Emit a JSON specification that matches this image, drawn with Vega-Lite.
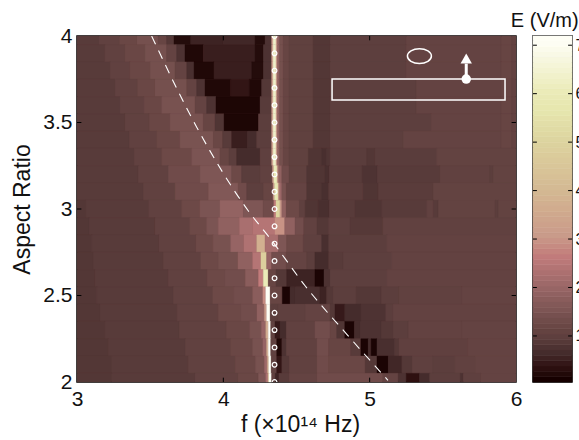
{"$schema":"https://vega.github.io/schema/vega-lite/v6.json","padding":{"left":11,"top":11,"right":0,"bottom":0},"background":"white","spacing":8,"title":{"text":"E (V/m)","anchor":"end","frame":"bounds","font":"Liberation Sans","fontSize":20,"fontWeight":"normal","color":"#111","offset":-7,"dx":-6},
"config":{"view":{"stroke":"black","strokeWidth":1.5},"axis":{"labelFont":"Liberation Sans","titleFont":"Liberation Sans","labelColor":"#111","titleColor":"#111","titleFontWeight":"normal","grid":false,"domain":false,"ticks":false}},
"datasets":{"cells":[
{"a0":3.95,"a1":4,"f0":3,"f1":3.15,"e":0.85},{"a0":3.95,"a1":4,"f0":3.15,"f1":3.29,"e":1},{"a0":3.95,"a1":4,"f0":3.29,"f1":3.41,"e":1.15},{"a0":3.95,"a1":4,"f0":3.41,"f1":3.556,"e":1.35},{"a0":3.95,"a1":4,"f0":3.556,"f1":3.613,"e":1.1},{"a0":3.95,"a1":4,"f0":3.613,"f1":3.663,"e":0.8},{"a0":3.95,"a1":4,"f0":3.663,"f1":3.777,"e":0.2},{"a0":3.95,"a1":4,"f0":3.777,"f1":4,"e":0.5},{"a0":3.95,"a1":4,"f0":4,"f1":4.217,"e":0.55},{"a0":3.95,"a1":4,"f0":4.217,"f1":4.285,"e":0.2},{"a0":3.95,"a1":4,"f0":4.285,"f1":4.33,"e":0.7},{"a0":3.95,"a1":4,"f0":4.33,"f1":4.34,"e":3},{"a0":3.95,"a1":4,"f0":4.34,"f1":4.36,"e":6.3},{"a0":3.95,"a1":4,"f0":4.36,"f1":4.37,"e":3},{"a0":3.95,"a1":4,"f0":4.37,"f1":4.385,"e":1.8},{"a0":3.95,"a1":4,"f0":4.385,"f1":4.41,"e":1.35},{"a0":3.95,"a1":4,"f0":4.41,"f1":4.45,"e":1.1},{"a0":3.95,"a1":4,"f0":4.45,"f1":4.615,"e":0.98},{"a0":3.95,"a1":4,"f0":4.615,"f1":4.73,"e":0.78},{"a0":3.95,"a1":4,"f0":4.73,"f1":5.25,"e":0.92},{"a0":3.95,"a1":4,"f0":5.25,"f1":5.9,"e":1.05},{"a0":3.95,"a1":4,"f0":5.9,"f1":5.97,"e":1.1},{"a0":3.95,"a1":4,"f0":5.97,"f1":6,"e":1.02},
{"a0":3.85,"a1":3.95,"f0":3,"f1":3.19,"e":0.85},{"a0":3.85,"a1":3.95,"f0":3.19,"f1":3.328,"e":1},{"a0":3.85,"a1":3.95,"f0":3.328,"f1":3.465,"e":1.15},{"a0":3.85,"a1":3.95,"f0":3.465,"f1":3.613,"e":1.35},{"a0":3.85,"a1":3.95,"f0":3.613,"f1":3.681,"e":1.05},{"a0":3.85,"a1":3.95,"f0":3.681,"f1":3.738,"e":0.7},{"a0":3.85,"a1":3.95,"f0":3.738,"f1":3.863,"e":0.15},{"a0":3.85,"a1":3.95,"f0":3.863,"f1":4.217,"e":0.45},{"a0":3.85,"a1":3.95,"f0":4.217,"f1":4.274,"e":0.2},{"a0":3.85,"a1":3.95,"f0":4.274,"f1":4.33,"e":0.7},{"a0":3.85,"a1":3.95,"f0":4.33,"f1":4.34,"e":3},{"a0":3.85,"a1":3.95,"f0":4.34,"f1":4.36,"e":6.3},{"a0":3.85,"a1":3.95,"f0":4.36,"f1":4.37,"e":3},{"a0":3.85,"a1":3.95,"f0":4.37,"f1":4.385,"e":1.8},{"a0":3.85,"a1":3.95,"f0":4.385,"f1":4.41,"e":1.35},{"a0":3.85,"a1":3.95,"f0":4.41,"f1":4.45,"e":1.1},{"a0":3.85,"a1":3.95,"f0":4.45,"f1":4.615,"e":0.98},{"a0":3.85,"a1":3.95,"f0":4.615,"f1":4.73,"e":0.78},{"a0":3.85,"a1":3.95,"f0":4.73,"f1":5.25,"e":0.92},{"a0":3.85,"a1":3.95,"f0":5.25,"f1":5.9,"e":1.05},{"a0":3.85,"a1":3.95,"f0":5.9,"f1":5.97,"e":1.1},{"a0":3.85,"a1":3.95,"f0":5.97,"f1":6,"e":1.02},
{"a0":3.75,"a1":3.85,"f0":3,"f1":3.226,"e":0.85},{"a0":3.75,"a1":3.85,"f0":3.226,"f1":3.362,"e":1},{"a0":3.75,"a1":3.85,"f0":3.362,"f1":3.5,"e":1.15},{"a0":3.75,"a1":3.85,"f0":3.5,"f1":3.67,"e":1.35},{"a0":3.75,"a1":3.85,"f0":3.67,"f1":3.75,"e":1.05},{"a0":3.75,"a1":3.85,"f0":3.75,"f1":3.8,"e":0.65},{"a0":3.75,"a1":3.85,"f0":3.8,"f1":3.936,"e":0.15},{"a0":3.75,"a1":3.85,"f0":3.936,"f1":4.194,"e":0.45},{"a0":3.75,"a1":3.85,"f0":4.194,"f1":4.274,"e":0.2},{"a0":3.75,"a1":3.85,"f0":4.274,"f1":4.33,"e":0.7},{"a0":3.75,"a1":3.85,"f0":4.33,"f1":4.34,"e":3},{"a0":3.75,"a1":3.85,"f0":4.34,"f1":4.36,"e":6.3},{"a0":3.75,"a1":3.85,"f0":4.36,"f1":4.37,"e":3},{"a0":3.75,"a1":3.85,"f0":4.37,"f1":4.385,"e":1.8},{"a0":3.75,"a1":3.85,"f0":4.385,"f1":4.41,"e":1.35},{"a0":3.75,"a1":3.85,"f0":4.41,"f1":4.45,"e":1.1},{"a0":3.75,"a1":3.85,"f0":4.45,"f1":4.615,"e":0.98},{"a0":3.75,"a1":3.85,"f0":4.615,"f1":4.73,"e":0.78},{"a0":3.75,"a1":3.85,"f0":4.73,"f1":5.25,"e":0.92},{"a0":3.75,"a1":3.85,"f0":5.25,"f1":5.9,"e":1.05},{"a0":3.75,"a1":3.85,"f0":5.9,"f1":5.97,"e":1.1},{"a0":3.75,"a1":3.85,"f0":5.97,"f1":6,"e":1.02},
{"a0":3.65,"a1":3.75,"f0":3,"f1":3.26,"e":0.85},{"a0":3.65,"a1":3.75,"f0":3.26,"f1":3.413,"e":1},{"a0":3.65,"a1":3.75,"f0":3.413,"f1":3.533,"e":1.15},{"a0":3.65,"a1":3.75,"f0":3.533,"f1":3.75,"e":1.35},{"a0":3.65,"a1":3.75,"f0":3.75,"f1":3.818,"e":1.05},{"a0":3.65,"a1":3.75,"f0":3.818,"f1":3.875,"e":0.7},{"a0":3.65,"a1":3.75,"f0":3.875,"f1":4.05,"e":0.15},{"a0":3.65,"a1":3.75,"f0":4.05,"f1":4.178,"e":0.35},{"a0":3.65,"a1":3.75,"f0":4.178,"f1":4.262,"e":0.15},{"a0":3.65,"a1":3.75,"f0":4.262,"f1":4.33,"e":0.8},{"a0":3.65,"a1":3.75,"f0":4.33,"f1":4.34,"e":3},{"a0":3.65,"a1":3.75,"f0":4.34,"f1":4.36,"e":6.3},{"a0":3.65,"a1":3.75,"f0":4.36,"f1":4.37,"e":3},{"a0":3.65,"a1":3.75,"f0":4.37,"f1":4.385,"e":1.8},{"a0":3.65,"a1":3.75,"f0":4.385,"f1":4.41,"e":1.35},{"a0":3.65,"a1":3.75,"f0":4.41,"f1":4.45,"e":1.1},{"a0":3.65,"a1":3.75,"f0":4.45,"f1":4.615,"e":0.98},{"a0":3.65,"a1":3.75,"f0":4.615,"f1":4.73,"e":0.78},{"a0":3.65,"a1":3.75,"f0":4.73,"f1":5.32,"e":0.92},{"a0":3.65,"a1":3.75,"f0":5.32,"f1":5.9,"e":1.05},{"a0":3.65,"a1":3.75,"f0":5.9,"f1":5.97,"e":1.1},{"a0":3.65,"a1":3.75,"f0":5.97,"f1":6,"e":1.02},
{"a0":3.55,"a1":3.65,"f0":3,"f1":3.294,"e":0.85},{"a0":3.55,"a1":3.65,"f0":3.294,"f1":3.458,"e":1},{"a0":3.55,"a1":3.65,"f0":3.458,"f1":3.579,"e":1.15},{"a0":3.55,"a1":3.65,"f0":3.579,"f1":3.807,"e":1.4},{"a0":3.55,"a1":3.65,"f0":3.807,"f1":3.886,"e":1.05},{"a0":3.55,"a1":3.65,"f0":3.886,"f1":3.95,"e":0.7},{"a0":3.55,"a1":3.65,"f0":3.95,"f1":4.251,"e":0.12},{"a0":3.55,"a1":3.65,"f0":4.251,"f1":4.33,"e":0.85},{"a0":3.55,"a1":3.65,"f0":4.33,"f1":4.34,"e":3},{"a0":3.55,"a1":3.65,"f0":4.34,"f1":4.36,"e":6.3},{"a0":3.55,"a1":3.65,"f0":4.36,"f1":4.37,"e":3},{"a0":3.55,"a1":3.65,"f0":4.37,"f1":4.385,"e":1.8},{"a0":3.55,"a1":3.65,"f0":4.385,"f1":4.41,"e":1.35},{"a0":3.55,"a1":3.65,"f0":4.41,"f1":4.45,"e":1.1},{"a0":3.55,"a1":3.65,"f0":4.45,"f1":4.615,"e":0.98},{"a0":3.55,"a1":3.65,"f0":4.615,"f1":4.73,"e":0.78},{"a0":3.55,"a1":3.65,"f0":4.73,"f1":5.32,"e":0.92},{"a0":3.55,"a1":3.65,"f0":5.32,"f1":5.9,"e":1.05},{"a0":3.55,"a1":3.65,"f0":5.9,"f1":5.97,"e":1.1},{"a0":3.55,"a1":3.65,"f0":5.97,"f1":6,"e":1.02},
{"a0":3.45,"a1":3.55,"f0":3,"f1":3.328,"e":0.85},{"a0":3.45,"a1":3.55,"f0":3.328,"f1":3.494,"e":1},{"a0":3.45,"a1":3.55,"f0":3.494,"f1":3.636,"e":1.15},{"a0":3.45,"a1":3.55,"f0":3.636,"f1":3.864,"e":1.4},{"a0":3.45,"a1":3.55,"f0":3.864,"f1":3.943,"e":1.1},{"a0":3.45,"a1":3.55,"f0":3.943,"f1":4.005,"e":0.75},{"a0":3.45,"a1":3.55,"f0":4.005,"f1":4.24,"e":0.12},{"a0":3.45,"a1":3.55,"f0":4.24,"f1":4.33,"e":0.9},{"a0":3.45,"a1":3.55,"f0":4.33,"f1":4.34,"e":3},{"a0":3.45,"a1":3.55,"f0":4.34,"f1":4.36,"e":6.3},{"a0":3.45,"a1":3.55,"f0":4.36,"f1":4.37,"e":3},{"a0":3.45,"a1":3.55,"f0":4.37,"f1":4.385,"e":1.8},{"a0":3.45,"a1":3.55,"f0":4.385,"f1":4.41,"e":1.35},{"a0":3.45,"a1":3.55,"f0":4.41,"f1":4.45,"e":1.1},{"a0":3.45,"a1":3.55,"f0":4.45,"f1":4.615,"e":0.98},{"a0":3.45,"a1":3.55,"f0":4.615,"f1":4.73,"e":0.78},{"a0":3.45,"a1":3.55,"f0":4.73,"f1":5.42,"e":0.92},{"a0":3.45,"a1":3.55,"f0":5.42,"f1":5.9,"e":1.05},{"a0":3.45,"a1":3.55,"f0":5.9,"f1":5.97,"e":1.1},{"a0":3.45,"a1":3.55,"f0":5.97,"f1":6,"e":1.02},
{"a0":3.35,"a1":3.45,"f0":3,"f1":3.358,"e":0.85},{"a0":3.35,"a1":3.45,"f0":3.358,"f1":3.545,"e":1},{"a0":3.35,"a1":3.45,"f0":3.545,"f1":3.704,"e":1.15},{"a0":3.35,"a1":3.45,"f0":3.704,"f1":3.932,"e":1.42},{"a0":3.35,"a1":3.45,"f0":3.932,"f1":3.995,"e":1.15},{"a0":3.35,"a1":3.45,"f0":3.995,"f1":4.057,"e":0.85},{"a0":3.35,"a1":3.45,"f0":4.057,"f1":4.164,"e":0.45},{"a0":3.35,"a1":3.45,"f0":4.164,"f1":4.228,"e":0.6},{"a0":3.35,"a1":3.45,"f0":4.228,"f1":4.33,"e":0.9},{"a0":3.35,"a1":3.45,"f0":4.33,"f1":4.34,"e":3},{"a0":3.35,"a1":3.45,"f0":4.34,"f1":4.36,"e":6.3},{"a0":3.35,"a1":3.45,"f0":4.36,"f1":4.37,"e":3},{"a0":3.35,"a1":3.45,"f0":4.37,"f1":4.385,"e":1.8},{"a0":3.35,"a1":3.45,"f0":4.385,"f1":4.41,"e":1.35},{"a0":3.35,"a1":3.45,"f0":4.41,"f1":4.45,"e":1.1},{"a0":3.35,"a1":3.45,"f0":4.45,"f1":4.615,"e":0.98},{"a0":3.35,"a1":3.45,"f0":4.615,"f1":4.73,"e":0.78},{"a0":3.35,"a1":3.45,"f0":4.73,"f1":5.23,"e":0.92},{"a0":3.35,"a1":3.45,"f0":5.23,"f1":5.9,"e":1.05},{"a0":3.35,"a1":3.45,"f0":5.9,"f1":5.97,"e":1.1},{"a0":3.35,"a1":3.45,"f0":5.97,"f1":6,"e":1.02},
{"a0":3.25,"a1":3.35,"f0":3,"f1":3.39,"e":0.85},{"a0":3.25,"a1":3.35,"f0":3.39,"f1":3.579,"e":1},{"a0":3.25,"a1":3.35,"f0":3.579,"f1":3.784,"e":1.2},{"a0":3.25,"a1":3.35,"f0":3.784,"f1":3.977,"e":1.45},{"a0":3.25,"a1":3.35,"f0":3.977,"f1":4.04,"e":1.1},{"a0":3.25,"a1":3.35,"f0":4.04,"f1":4.091,"e":0.9},{"a0":3.25,"a1":3.35,"f0":4.091,"f1":4.251,"e":0.6},{"a0":3.25,"a1":3.35,"f0":4.251,"f1":4.33,"e":0.95},{"a0":3.25,"a1":3.35,"f0":4.33,"f1":4.34,"e":3},{"a0":3.25,"a1":3.35,"f0":4.34,"f1":4.36,"e":6.3},{"a0":3.25,"a1":3.35,"f0":4.36,"f1":4.37,"e":3},{"a0":3.25,"a1":3.35,"f0":4.37,"f1":4.385,"e":1.8},{"a0":3.25,"a1":3.35,"f0":4.385,"f1":4.41,"e":1.35},{"a0":3.25,"a1":3.35,"f0":4.41,"f1":4.45,"e":1.1},{"a0":3.25,"a1":3.35,"f0":4.45,"f1":4.581,"e":0.98},{"a0":3.25,"a1":3.35,"f0":4.581,"f1":4.672,"e":0.75},{"a0":3.25,"a1":3.35,"f0":4.672,"f1":4.706,"e":0.65},{"a0":3.25,"a1":3.35,"f0":4.706,"f1":4.73,"e":0.75},{"a0":3.25,"a1":3.35,"f0":4.73,"f1":4.98,"e":0.88},{"a0":3.25,"a1":3.35,"f0":4.98,"f1":5.036,"e":0.78},{"a0":3.25,"a1":3.35,"f0":5.036,"f1":5.458,"e":0.88},{"a0":3.25,"a1":3.35,"f0":5.458,"f1":6,"e":1.03},
{"a0":3.15,"a1":3.25,"f0":3,"f1":3.419,"e":0.85},{"a0":3.15,"a1":3.25,"f0":3.419,"f1":3.624,"e":1},{"a0":3.15,"a1":3.25,"f0":3.624,"f1":3.841,"e":1.25},{"a0":3.15,"a1":3.25,"f0":3.841,"f1":4.057,"e":1.5},{"a0":3.15,"a1":3.25,"f0":4.057,"f1":4.125,"e":1.2},{"a0":3.15,"a1":3.25,"f0":4.125,"f1":4.251,"e":0.88},{"a0":3.15,"a1":3.25,"f0":4.251,"f1":4.335,"e":1},{"a0":3.15,"a1":3.25,"f0":4.335,"f1":4.345,"e":3},{"a0":3.15,"a1":3.25,"f0":4.345,"f1":4.368,"e":6},{"a0":3.15,"a1":3.25,"f0":4.368,"f1":4.378,"e":3},{"a0":3.15,"a1":3.25,"f0":4.378,"f1":4.4,"e":1.8},{"a0":3.15,"a1":3.25,"f0":4.4,"f1":4.45,"e":1.25},{"a0":3.15,"a1":3.25,"f0":4.45,"f1":4.57,"e":0.98},{"a0":3.15,"a1":3.25,"f0":4.57,"f1":4.695,"e":0.75},{"a0":3.15,"a1":3.25,"f0":4.695,"f1":4.725,"e":0.65},{"a0":3.15,"a1":3.25,"f0":4.725,"f1":4.95,"e":0.85},{"a0":3.15,"a1":3.25,"f0":4.95,"f1":5.053,"e":0.72},{"a0":3.15,"a1":3.25,"f0":5.053,"f1":5.48,"e":0.85},{"a0":3.15,"a1":3.25,"f0":5.48,"f1":5.82,"e":1},{"a0":3.15,"a1":3.25,"f0":5.82,"f1":5.845,"e":0.9},{"a0":3.15,"a1":3.25,"f0":5.845,"f1":6,"e":1.03},
{"a0":3.05,"a1":3.15,"f0":3,"f1":3.453,"e":0.85},{"a0":3.05,"a1":3.15,"f0":3.453,"f1":3.67,"e":1},{"a0":3.05,"a1":3.15,"f0":3.67,"f1":3.898,"e":1.25},{"a0":3.05,"a1":3.15,"f0":3.898,"f1":4.103,"e":1.55},{"a0":3.05,"a1":3.15,"f0":4.103,"f1":4.16,"e":1.25},{"a0":3.05,"a1":3.15,"f0":4.16,"f1":4.274,"e":0.92},{"a0":3.05,"a1":3.15,"f0":4.274,"f1":4.34,"e":1.1},{"a0":3.05,"a1":3.15,"f0":4.34,"f1":4.35,"e":3},{"a0":3.05,"a1":3.15,"f0":4.35,"f1":4.375,"e":5.8},{"a0":3.05,"a1":3.15,"f0":4.375,"f1":4.385,"e":3},{"a0":3.05,"a1":3.15,"f0":4.385,"f1":4.4,"e":2},{"a0":3.05,"a1":3.15,"f0":4.4,"f1":4.43,"e":1.4},{"a0":3.05,"a1":3.15,"f0":4.43,"f1":4.57,"e":1.05},{"a0":3.05,"a1":3.15,"f0":4.57,"f1":4.672,"e":0.75},{"a0":3.05,"a1":3.15,"f0":4.672,"f1":4.72,"e":0.65},{"a0":3.05,"a1":3.15,"f0":4.72,"f1":4.956,"e":0.87},{"a0":3.05,"a1":3.15,"f0":4.956,"f1":5.06,"e":0.75},{"a0":3.05,"a1":3.15,"f0":5.06,"f1":5.435,"e":0.87},{"a0":3.05,"a1":3.15,"f0":5.435,"f1":6,"e":1.03},
{"a0":2.95,"a1":3.05,"f0":3,"f1":3.06,"e":0.78},{"a0":2.95,"a1":3.05,"f0":3.06,"f1":3.49,"e":0.85},{"a0":2.95,"a1":3.05,"f0":3.49,"f1":3.715,"e":1},{"a0":2.95,"a1":3.05,"f0":3.715,"f1":3.84,"e":1.2},{"a0":2.95,"a1":3.05,"f0":3.84,"f1":3.977,"e":1.45},{"a0":2.95,"a1":3.05,"f0":3.977,"f1":4.137,"e":1.85},{"a0":2.95,"a1":3.05,"f0":4.137,"f1":4.273,"e":1.5},{"a0":2.95,"a1":3.05,"f0":4.273,"f1":4.345,"e":1.25},{"a0":2.95,"a1":3.05,"f0":4.345,"f1":4.36,"e":2.5},{"a0":2.95,"a1":3.05,"f0":4.36,"f1":4.387,"e":5},{"a0":2.95,"a1":3.05,"f0":4.387,"f1":4.4,"e":3},{"a0":2.95,"a1":3.05,"f0":4.4,"f1":4.43,"e":1.8},{"a0":2.95,"a1":3.05,"f0":4.43,"f1":4.52,"e":1.2},{"a0":2.95,"a1":3.05,"f0":4.52,"f1":4.56,"e":0.95},{"a0":2.95,"a1":3.05,"f0":4.56,"f1":4.65,"e":0.75},{"a0":2.95,"a1":3.05,"f0":4.65,"f1":4.725,"e":0.65},{"a0":2.95,"a1":3.05,"f0":4.725,"f1":4.9,"e":0.85},{"a0":2.95,"a1":3.05,"f0":4.9,"f1":5.083,"e":0.75},{"a0":2.95,"a1":3.05,"f0":5.083,"f1":5.39,"e":0.85},{"a0":2.95,"a1":3.05,"f0":5.39,"f1":5.435,"e":1},{"a0":2.95,"a1":3.05,"f0":5.435,"f1":5.47,"e":0.85},{"a0":2.95,"a1":3.05,"f0":5.47,"f1":5.857,"e":1.03},{"a0":2.95,"a1":3.05,"f0":5.857,"f1":5.88,"e":0.9},{"a0":2.95,"a1":3.05,"f0":5.88,"f1":6,"e":1.03},
{"a0":2.85,"a1":2.95,"f0":3,"f1":3.084,"e":0.78},{"a0":2.85,"a1":2.95,"f0":3.084,"f1":3.533,"e":0.85},{"a0":2.85,"a1":2.95,"f0":3.533,"f1":3.77,"e":1},{"a0":2.85,"a1":2.95,"f0":3.77,"f1":3.886,"e":1.2},{"a0":2.85,"a1":2.95,"f0":3.886,"f1":3.965,"e":1.45},{"a0":2.85,"a1":2.95,"f0":3.965,"f1":4.11,"e":1.8},{"a0":2.85,"a1":2.95,"f0":4.11,"f1":4.2,"e":2.2},{"a0":2.85,"a1":2.95,"f0":4.2,"f1":4.353,"e":2.4},{"a0":2.85,"a1":2.95,"f0":4.353,"f1":4.42,"e":2.9},{"a0":2.85,"a1":2.95,"f0":4.42,"f1":4.49,"e":1.8},{"a0":2.85,"a1":2.95,"f0":4.49,"f1":4.55,"e":1.3},{"a0":2.85,"a1":2.95,"f0":4.55,"f1":4.64,"e":1},{"a0":2.85,"a1":2.95,"f0":4.64,"f1":4.72,"e":0.8},{"a0":2.85,"a1":2.95,"f0":4.72,"f1":4.866,"e":0.92},{"a0":2.85,"a1":2.95,"f0":4.866,"f1":5.09,"e":0.82},{"a0":2.85,"a1":2.95,"f0":5.09,"f1":6,"e":1},
{"a0":2.75,"a1":2.85,"f0":3,"f1":3.1,"e":0.78},{"a0":2.75,"a1":2.85,"f0":3.1,"f1":3.56,"e":0.85},{"a0":2.75,"a1":2.85,"f0":3.56,"f1":3.813,"e":1},{"a0":2.75,"a1":2.85,"f0":3.813,"f1":3.93,"e":1.2},{"a0":2.75,"a1":2.85,"f0":3.93,"f1":4.05,"e":1.4},{"a0":2.75,"a1":2.85,"f0":4.05,"f1":4.14,"e":1.9},{"a0":2.75,"a1":2.85,"f0":4.14,"f1":4.228,"e":2.3},{"a0":2.75,"a1":2.85,"f0":4.228,"f1":4.285,"e":3.7},{"a0":2.75,"a1":2.85,"f0":4.285,"f1":4.376,"e":2.2},{"a0":2.75,"a1":2.85,"f0":4.376,"f1":4.433,"e":1.5},{"a0":2.75,"a1":2.85,"f0":4.433,"f1":4.547,"e":1.2},{"a0":2.75,"a1":2.85,"f0":4.547,"f1":4.672,"e":0.95},{"a0":2.75,"a1":2.85,"f0":4.672,"f1":4.72,"e":0.65},{"a0":2.75,"a1":2.85,"f0":4.72,"f1":5.116,"e":0.9},{"a0":2.75,"a1":2.85,"f0":5.116,"f1":6,"e":1.02},
{"a0":2.65,"a1":2.75,"f0":3,"f1":3.11,"e":0.78},{"a0":2.65,"a1":2.75,"f0":3.11,"f1":3.59,"e":0.85},{"a0":2.65,"a1":2.75,"f0":3.59,"f1":3.845,"e":1},{"a0":2.65,"a1":2.75,"f0":3.845,"f1":3.965,"e":1.2},{"a0":2.65,"a1":2.75,"f0":3.965,"f1":4.1,"e":1.35},{"a0":2.65,"a1":2.75,"f0":4.1,"f1":4.2,"e":1.8},{"a0":2.65,"a1":2.75,"f0":4.2,"f1":4.257,"e":2.4},{"a0":2.65,"a1":2.75,"f0":4.257,"f1":4.296,"e":4.8},{"a0":2.65,"a1":2.75,"f0":4.296,"f1":4.33,"e":1.9},{"a0":2.65,"a1":2.75,"f0":4.33,"f1":4.43,"e":1.3},{"a0":2.65,"a1":2.75,"f0":4.43,"f1":4.57,"e":1.05},{"a0":2.65,"a1":2.75,"f0":4.57,"f1":4.626,"e":0.9},{"a0":2.65,"a1":2.75,"f0":4.626,"f1":4.72,"e":0.6},{"a0":2.65,"a1":2.75,"f0":4.72,"f1":4.82,"e":0.85},{"a0":2.65,"a1":2.75,"f0":4.82,"f1":5.15,"e":0.92},{"a0":2.65,"a1":2.75,"f0":5.15,"f1":6,"e":1.02},
{"a0":2.55,"a1":2.65,"f0":3,"f1":3.123,"e":0.78},{"a0":2.55,"a1":2.65,"f0":3.123,"f1":3.624,"e":0.85},{"a0":2.55,"a1":2.65,"f0":3.624,"f1":3.89,"e":1},{"a0":2.55,"a1":2.65,"f0":3.89,"f1":4.01,"e":1.2},{"a0":2.55,"a1":2.65,"f0":4.01,"f1":4.15,"e":1.3},{"a0":2.55,"a1":2.65,"f0":4.15,"f1":4.24,"e":1.7},{"a0":2.55,"a1":2.65,"f0":4.24,"f1":4.273,"e":2.6},{"a0":2.55,"a1":2.65,"f0":4.273,"f1":4.307,"e":6},{"a0":2.55,"a1":2.65,"f0":4.307,"f1":4.36,"e":1.1},{"a0":2.55,"a1":2.65,"f0":4.36,"f1":4.433,"e":0.8},{"a0":2.55,"a1":2.65,"f0":4.433,"f1":4.626,"e":0.5},{"a0":2.55,"a1":2.65,"f0":4.626,"f1":4.688,"e":0.1},{"a0":2.55,"a1":2.65,"f0":4.688,"f1":4.73,"e":0.7},{"a0":2.55,"a1":2.65,"f0":4.73,"f1":5.116,"e":0.92},{"a0":2.55,"a1":2.65,"f0":5.116,"f1":6,"e":1.02},
{"a0":2.45,"a1":2.55,"f0":3,"f1":3.134,"e":0.78},{"a0":2.45,"a1":2.55,"f0":3.134,"f1":3.658,"e":0.85},{"a0":2.45,"a1":2.55,"f0":3.658,"f1":3.927,"e":1},{"a0":2.45,"a1":2.55,"f0":3.927,"f1":4.07,"e":1.2},{"a0":2.45,"a1":2.55,"f0":4.07,"f1":4.2,"e":1.3},{"a0":2.45,"a1":2.55,"f0":4.2,"f1":4.27,"e":1.7},{"a0":2.45,"a1":2.55,"f0":4.27,"f1":4.29,"e":2.8},{"a0":2.45,"a1":2.55,"f0":4.29,"f1":4.32,"e":7},{"a0":2.45,"a1":2.55,"f0":4.32,"f1":4.403,"e":1.1},{"a0":2.45,"a1":2.55,"f0":4.403,"f1":4.456,"e":0.1},{"a0":2.45,"a1":2.55,"f0":4.456,"f1":4.49,"e":0.6},{"a0":2.45,"a1":2.55,"f0":4.49,"f1":4.66,"e":0.65},{"a0":2.45,"a1":2.55,"f0":4.66,"f1":4.706,"e":0.5},{"a0":2.45,"a1":2.55,"f0":4.706,"f1":4.75,"e":0.8},{"a0":2.45,"a1":2.55,"f0":4.75,"f1":4.91,"e":0.9},{"a0":2.45,"a1":2.55,"f0":4.91,"f1":5.08,"e":0.8},{"a0":2.45,"a1":2.55,"f0":5.08,"f1":5.2,"e":0.9},{"a0":2.45,"a1":2.55,"f0":5.2,"f1":5.63,"e":1},{"a0":2.45,"a1":2.55,"f0":5.63,"f1":6,"e":1.05},
{"a0":2.35,"a1":2.45,"f0":3,"f1":3.157,"e":0.78},{"a0":2.35,"a1":2.45,"f0":3.157,"f1":3.685,"e":0.85},{"a0":2.35,"a1":2.45,"f0":3.685,"f1":3.965,"e":1},{"a0":2.35,"a1":2.45,"f0":3.965,"f1":4.12,"e":1.2},{"a0":2.35,"a1":2.45,"f0":4.12,"f1":4.23,"e":1.3},{"a0":2.35,"a1":2.45,"f0":4.23,"f1":4.28,"e":1.8},{"a0":2.35,"a1":2.45,"f0":4.28,"f1":4.296,"e":3},{"a0":2.35,"a1":2.45,"f0":4.296,"f1":4.32,"e":7},{"a0":2.35,"a1":2.45,"f0":4.32,"f1":4.376,"e":0.9},{"a0":2.35,"a1":2.45,"f0":4.376,"f1":4.56,"e":0.95},{"a0":2.35,"a1":2.45,"f0":4.56,"f1":4.73,"e":1.05},{"a0":2.35,"a1":2.45,"f0":4.73,"f1":4.763,"e":0.8},{"a0":2.35,"a1":2.45,"f0":4.763,"f1":4.83,"e":0.4},{"a0":2.35,"a1":2.45,"f0":4.83,"f1":4.94,"e":0.6},{"a0":2.35,"a1":2.45,"f0":4.94,"f1":5.11,"e":0.72},{"a0":2.35,"a1":2.45,"f0":5.11,"f1":5.16,"e":0.9},{"a0":2.35,"a1":2.45,"f0":5.16,"f1":6,"e":1.02},
{"a0":2.25,"a1":2.35,"f0":3,"f1":3.19,"e":0.78},{"a0":2.25,"a1":2.35,"f0":3.19,"f1":3.7,"e":0.85},{"a0":2.25,"a1":2.35,"f0":3.7,"f1":4.02,"e":1},{"a0":2.25,"a1":2.35,"f0":4.02,"f1":4.18,"e":1.15},{"a0":2.25,"a1":2.35,"f0":4.18,"f1":4.26,"e":1.4},{"a0":2.25,"a1":2.35,"f0":4.26,"f1":4.29,"e":1.9},{"a0":2.25,"a1":2.35,"f0":4.29,"f1":4.307,"e":3.5},{"a0":2.25,"a1":2.35,"f0":4.307,"f1":4.324,"e":7.1},{"a0":2.25,"a1":2.35,"f0":4.324,"f1":4.353,"e":1},{"a0":2.25,"a1":2.35,"f0":4.353,"f1":4.387,"e":0.4},{"a0":2.25,"a1":2.35,"f0":4.387,"f1":4.43,"e":0.6},{"a0":2.25,"a1":2.35,"f0":4.43,"f1":4.626,"e":1},{"a0":2.25,"a1":2.35,"f0":4.626,"f1":4.73,"e":1.3},{"a0":2.25,"a1":2.35,"f0":4.73,"f1":4.775,"e":1.1},{"a0":2.25,"a1":2.35,"f0":4.775,"f1":4.83,"e":0.75},{"a0":2.25,"a1":2.35,"f0":4.83,"f1":4.895,"e":0.1},{"a0":2.25,"a1":2.35,"f0":4.895,"f1":4.935,"e":0.6},{"a0":2.25,"a1":2.35,"f0":4.935,"f1":5.08,"e":0.7},{"a0":2.25,"a1":2.35,"f0":5.08,"f1":5.16,"e":0.8},{"a0":2.25,"a1":2.35,"f0":5.16,"f1":5.265,"e":0.9},{"a0":2.25,"a1":2.35,"f0":5.265,"f1":5.63,"e":1.02},{"a0":2.25,"a1":2.35,"f0":5.63,"f1":6,"e":1.05},
{"a0":2.15,"a1":2.25,"f0":3,"f1":3.214,"e":0.78},{"a0":2.15,"a1":2.25,"f0":3.214,"f1":3.74,"e":0.85},{"a0":2.15,"a1":2.25,"f0":3.74,"f1":4.05,"e":1},{"a0":2.15,"a1":2.25,"f0":4.05,"f1":4.2,"e":1.15},{"a0":2.15,"a1":2.25,"f0":4.2,"f1":4.27,"e":1.4},{"a0":2.15,"a1":2.25,"f0":4.27,"f1":4.295,"e":1.9},{"a0":2.15,"a1":2.25,"f0":4.295,"f1":4.307,"e":3.5},{"a0":2.15,"a1":2.25,"f0":4.307,"f1":4.324,"e":7.1},{"a0":2.15,"a1":2.25,"f0":4.324,"f1":4.365,"e":1},{"a0":2.15,"a1":2.25,"f0":4.365,"f1":4.4,"e":0.15},{"a0":2.15,"a1":2.25,"f0":4.4,"f1":4.43,"e":0.7},{"a0":2.15,"a1":2.25,"f0":4.43,"f1":4.64,"e":1},{"a0":2.15,"a1":2.25,"f0":4.64,"f1":4.72,"e":1.3},{"a0":2.15,"a1":2.25,"f0":4.72,"f1":4.87,"e":1.1},{"a0":2.15,"a1":2.25,"f0":4.87,"f1":4.94,"e":0.85},{"a0":2.15,"a1":2.25,"f0":4.94,"f1":4.99,"e":0.1},{"a0":2.15,"a1":2.25,"f0":4.99,"f1":5.01,"e":0.6},{"a0":2.15,"a1":2.25,"f0":5.01,"f1":5.05,"e":0.1},{"a0":2.15,"a1":2.25,"f0":5.05,"f1":5.17,"e":0.65},{"a0":2.15,"a1":2.25,"f0":5.17,"f1":5.2,"e":0.8},{"a0":2.15,"a1":2.25,"f0":5.2,"f1":5.67,"e":0.97},{"a0":2.15,"a1":2.25,"f0":5.67,"f1":6,"e":1.05},
{"a0":2.05,"a1":2.15,"f0":3,"f1":3.237,"e":0.78},{"a0":2.05,"a1":2.15,"f0":3.237,"f1":3.76,"e":0.85},{"a0":2.05,"a1":2.15,"f0":3.76,"f1":4.08,"e":1},{"a0":2.05,"a1":2.15,"f0":4.08,"f1":4.22,"e":1.15},{"a0":2.05,"a1":2.15,"f0":4.22,"f1":4.28,"e":1.4},{"a0":2.05,"a1":2.15,"f0":4.28,"f1":4.3,"e":2},{"a0":2.05,"a1":2.15,"f0":4.3,"f1":4.31,"e":3.5},{"a0":2.05,"a1":2.15,"f0":4.31,"f1":4.327,"e":7.1},{"a0":2.05,"a1":2.15,"f0":4.327,"f1":4.365,"e":1},{"a0":2.05,"a1":2.15,"f0":4.365,"f1":4.4,"e":0.35},{"a0":2.05,"a1":2.15,"f0":4.4,"f1":4.45,"e":0.8},{"a0":2.05,"a1":2.15,"f0":4.45,"f1":4.64,"e":1},{"a0":2.05,"a1":2.15,"f0":4.64,"f1":4.72,"e":1.25},{"a0":2.05,"a1":2.15,"f0":4.72,"f1":4.97,"e":1.15},{"a0":2.05,"a1":2.15,"f0":4.97,"f1":5.05,"e":0.8},{"a0":2.05,"a1":2.15,"f0":5.05,"f1":5.127,"e":0.1},{"a0":2.05,"a1":2.15,"f0":5.127,"f1":5.22,"e":0.55},{"a0":2.05,"a1":2.15,"f0":5.22,"f1":5.29,"e":0.8},{"a0":2.05,"a1":2.15,"f0":5.29,"f1":5.43,"e":0.95},{"a0":2.05,"a1":2.15,"f0":5.43,"f1":5.58,"e":0.9},{"a0":2.05,"a1":2.15,"f0":5.58,"f1":5.72,"e":1},{"a0":2.05,"a1":2.15,"f0":5.72,"f1":6,"e":1.05},
{"a0":2,"a1":2.05,"f0":3,"f1":3.237,"e":0.78},{"a0":2,"a1":2.05,"f0":3.237,"f1":3.806,"e":0.85},{"a0":2,"a1":2.05,"f0":3.806,"f1":4.1,"e":1},{"a0":2,"a1":2.05,"f0":4.1,"f1":4.24,"e":1.15},{"a0":2,"a1":2.05,"f0":4.24,"f1":4.29,"e":1.5},{"a0":2,"a1":2.05,"f0":4.29,"f1":4.305,"e":2.2},{"a0":2,"a1":2.05,"f0":4.305,"f1":4.312,"e":4},{"a0":2,"a1":2.05,"f0":4.312,"f1":4.33,"e":7},{"a0":2,"a1":2.05,"f0":4.33,"f1":4.355,"e":1},{"a0":2,"a1":2.05,"f0":4.355,"f1":4.38,"e":0.5},{"a0":2,"a1":2.05,"f0":4.38,"f1":4.45,"e":0.85},{"a0":2,"a1":2.05,"f0":4.45,"f1":4.64,"e":1.05},{"a0":2,"a1":2.05,"f0":4.64,"f1":5.09,"e":1.25},{"a0":2,"a1":2.05,"f0":5.09,"f1":5.195,"e":1.05},{"a0":2,"a1":2.05,"f0":5.195,"f1":5.25,"e":0.7},{"a0":2,"a1":2.05,"f0":5.25,"f1":5.34,"e":0.3},{"a0":2,"a1":2.05,"f0":5.34,"f1":5.41,"e":0.6},{"a0":2,"a1":2.05,"f0":5.41,"f1":5.62,"e":0.9},{"a0":2,"a1":2.05,"f0":5.62,"f1":5.64,"e":0.7},{"a0":2,"a1":2.05,"f0":5.64,"f1":5.76,"e":0.95},{"a0":2,"a1":2.05,"f0":5.76,"f1":6,"e":1.05}
]},
"hconcat":[
{"width":439,"height":346,"view":{"fill":"#5f3f3f","stroke":"black","strokeWidth":1.5},
"layer":[
{"data":{"name":"cells"},"mark":{"type":"rect","strokeWidth":0.4},"encoding":{"x":{"field":"f0","type":"quantitative","scale":{"domain":[3,6],"nice":false,"zero":false},"axis":{"values":[3,4,5,6],"title":"f (×10¹⁴ Hz)","labelFontSize":21,"titleFontSize":23,"labelPadding":6,"titlePadding":4,"titleX":223,"labelFlush":false,"labelOverlap":false,"format":"d"}},"x2":{"field":"f1"},"y":{"field":"a0","type":"quantitative","scale":{"domain":[2,4],"nice":false,"zero":false},"axis":{"values":[2,2.5,3,3.5,4],"title":"Aspect Ratio","labelFontSize":21,"titleFontSize":23,"labelPadding":5,"titlePadding":8,"labelFlush":false,"labelOverlap":false,"format":"~g"}},"y2":{"field":"a1"},"color":{"field":"e","type":"quantitative","legend":null,"scale":{"domain":[0.05,0.3,0.6,0.9,1.1,1.5,2,2.6,3,4,5,5.6,6,7,7.19],"range":["#160000","#2e1010","#452c2c","#5c3e3d","#674543","#7e5655","#9c6868","#c27c7c","#c99a8a","#d4ba94","#ddd5a0","#e6e6ae","#ebebb8","#fdfdf4","#ffffff"]}},"stroke":{"field":"e","type":"quantitative","legend":null,"scale":{"domain":[0.05,0.3,0.6,0.9,1.1,1.5,2,2.6,3,4,5,5.6,6,7,7.19],"range":["#160000","#2e1010","#452c2c","#5c3e3d","#674543","#7e5655","#9c6868","#c27c7c","#c99a8a","#d4ba94","#ddd5a0","#e6e6ae","#ebebb8","#fdfdf4","#ffffff"]}}}},
{"data":{"values":[{"f":3.51,"a":4},{"f":3.82,"a":3.47},{"f":4.17,"a":2.99},{"f":4.32,"a":2.83},{"f":4.56,"a":2.555},{"f":4.85,"a":2.27},{"f":5.125,"a":2.01}]},"mark":{"type":"line","color":"white","strokeWidth":1.1,"strokeDash":[9,7],"interpolate":"monotone","clip":true},"encoding":{"x":{"field":"f","type":"quantitative"},"y":{"field":"a","type":"quantitative"},"order":{"field":"a","sort":"descending"}}},
{"data":{"values":[{"f":4.35,"a":2},{"f":4.35,"a":2.1},{"f":4.35,"a":2.2},{"f":4.35,"a":2.3},{"f":4.35,"a":2.4},{"f":4.35,"a":2.5},{"f":4.35,"a":2.6},{"f":4.35,"a":2.7},{"f":4.35,"a":2.8},{"f":4.35,"a":2.9},{"f":4.35,"a":3},{"f":4.35,"a":3.1},{"f":4.35,"a":3.2},{"f":4.35,"a":3.3},{"f":4.35,"a":3.4},{"f":4.35,"a":3.5},{"f":4.35,"a":3.6},{"f":4.35,"a":3.7},{"f":4.35,"a":3.8},{"f":4.35,"a":3.9},{"f":4.35,"a":4}]},"mark":{"type":"point","shape":"circle","filled":false,"color":"white","size":22,"strokeWidth":1.2,"opacity":1,"clip":true},"encoding":{"x":{"field":"f","type":"quantitative"},"y":{"field":"a","type":"quantitative"}}},
{"data":{"values":[{"f0":4.743,"f1":5.925,"a0":3.63,"a1":3.751}]},"mark":{"type":"rect","fillOpacity":0,"stroke":"white","strokeWidth":1.5},"encoding":{"x":{"field":"f0","type":"quantitative"},"x2":{"field":"f1"},"y":{"field":"a0","type":"quantitative"},"y2":{"field":"a1"}}},
{"data":{"values":[{"f":5.34,"a":3.884}]},"mark":{"type":"point","shape":"M-1,0A1,0.62,0,1,1,1,0A1,0.62,0,1,1,-1,0Z","filled":false,"color":"white","size":576,"strokeWidth":1.5,"opacity":1},"encoding":{"x":{"field":"f","type":"quantitative"},"y":{"field":"a","type":"quantitative"}}},
{"data":{"values":[{"f":5.66,"a0":3.751,"a1":3.84}]},"mark":{"type":"rule","color":"white","strokeWidth":3},"encoding":{"x":{"field":"f","type":"quantitative"},"y":{"field":"a0","type":"quantitative"},"y2":{"field":"a1"}}},
{"data":{"values":[{"f":5.66,"a":3.751}]},"mark":{"type":"point","shape":"circle","filled":true,"color":"white","size":90,"opacity":1},"encoding":{"x":{"field":"f","type":"quantitative"},"y":{"field":"a","type":"quantitative"}}},
{"data":{"values":[{"f":5.66,"a":3.87}]},"mark":{"type":"point","shape":"triangle-up","filled":true,"color":"white","size":130,"opacity":1},"encoding":{"x":{"field":"f","type":"quantitative"},"y":{"field":"a","type":"quantitative"}}},
{"data":{"values":[{"f":4,"a0":2,"a1":2.025},{"f":5,"a0":2,"a1":2.025},{"f":4,"a0":3.975,"a1":4},{"f":5,"a0":3.975,"a1":4}]},"mark":{"type":"rule","color":"black","strokeWidth":1},"encoding":{"x":{"field":"f","type":"quantitative"},"y":{"field":"a0","type":"quantitative"},"y2":{"field":"a1"}}},
{"data":{"values":[{"f0":3,"f1":3.03,"a":2.5},{"f0":3,"f1":3.03,"a":3},{"f0":3,"f1":3.03,"a":3.5},{"f0":5.97,"f1":6,"a":2.5},{"f0":5.97,"f1":6,"a":3},{"f0":5.97,"f1":6,"a":3.5}]},"mark":{"type":"rule","color":"black","strokeWidth":1},"encoding":{"x":{"field":"f0","type":"quantitative"},"x2":{"field":"f1"},"y":{"field":"a","type":"quantitative"}}}
]},
{"width":39,"height":346,"view":{"stroke":"black","strokeWidth":1.5},
"layer":[
{"data":{"values":[{"v0":0.05,"v1":0.16},{"v0":0.16,"v1":0.27},{"v0":0.27,"v1":0.38},{"v0":0.38,"v1":0.49},{"v0":0.49,"v1":0.6},{"v0":0.6,"v1":0.71},{"v0":0.71,"v1":0.82},{"v0":0.82,"v1":0.93},{"v0":0.93,"v1":1.04},{"v0":1.04,"v1":1.15},{"v0":1.15,"v1":1.26},{"v0":1.26,"v1":1.37},{"v0":1.37,"v1":1.48},{"v0":1.48,"v1":1.59},{"v0":1.59,"v1":1.7},{"v0":1.7,"v1":1.81},{"v0":1.81,"v1":1.92},{"v0":1.92,"v1":2.03},{"v0":2.03,"v1":2.14},{"v0":2.14,"v1":2.25},{"v0":2.25,"v1":2.36},{"v0":2.36,"v1":2.47},{"v0":2.47,"v1":2.58},{"v0":2.58,"v1":2.69},{"v0":2.69,"v1":2.8},{"v0":2.8,"v1":2.91},{"v0":2.91,"v1":3.02},{"v0":3.02,"v1":3.13},{"v0":3.13,"v1":3.24},{"v0":3.24,"v1":3.35},{"v0":3.35,"v1":3.46},{"v0":3.46,"v1":3.57},{"v0":3.57,"v1":3.68},{"v0":3.68,"v1":3.79},{"v0":3.79,"v1":3.9},{"v0":3.9,"v1":4.01},{"v0":4.01,"v1":4.12},{"v0":4.12,"v1":4.23},{"v0":4.23,"v1":4.34},{"v0":4.34,"v1":4.45},{"v0":4.45,"v1":4.56},{"v0":4.56,"v1":4.67},{"v0":4.67,"v1":4.78},{"v0":4.78,"v1":4.89},{"v0":4.89,"v1":5},{"v0":5,"v1":5.11},{"v0":5.11,"v1":5.22},{"v0":5.22,"v1":5.33},{"v0":5.33,"v1":5.44},{"v0":5.44,"v1":5.55},{"v0":5.55,"v1":5.66},{"v0":5.66,"v1":5.77},{"v0":5.77,"v1":5.88},{"v0":5.88,"v1":5.99},{"v0":5.99,"v1":6.1},{"v0":6.1,"v1":6.21},{"v0":6.21,"v1":6.32},{"v0":6.32,"v1":6.43},{"v0":6.43,"v1":6.54},{"v0":6.54,"v1":6.65},{"v0":6.65,"v1":6.76},{"v0":6.76,"v1":6.87},{"v0":6.87,"v1":6.98},{"v0":6.98,"v1":7.09},{"v0":7.09,"v1":7.19}]},"mark":{"type":"rect","strokeWidth":0.6},"encoding":{"x":{"datum":0,"type":"quantitative","scale":{"domain":[0,1],"nice":false},"axis":null},"x2":{"datum":1},"y":{"field":"v0","type":"quantitative","scale":{"domain":[0.05,7.19],"nice":false,"zero":false},"axis":{"orient":"right","values":[1,2,3,4,5,6,7],"title":null,"labelFontSize":16,"labelPadding":3,"labelOverlap":false,"labelFlush":false,"format":"d"}},"y2":{"field":"v1"},"color":{"field":"v0","type":"quantitative","legend":null,"scale":{"domain":[0.05,0.3,0.6,0.9,1.1,1.5,2,2.6,3,4,5,5.6,6,7,7.19],"range":["#160000","#2e1010","#452c2c","#5c3e3d","#674543","#7e5655","#9c6868","#c27c7c","#c99a8a","#d4ba94","#ddd5a0","#e6e6ae","#ebebb8","#fdfdf4","#ffffff"]}},"stroke":{"field":"v0","type":"quantitative","legend":null,"scale":{"domain":[0.05,0.3,0.6,0.9,1.1,1.5,2,2.6,3,4,5,5.6,6,7,7.19],"range":["#160000","#2e1010","#452c2c","#5c3e3d","#674543","#7e5655","#9c6868","#c27c7c","#c99a8a","#d4ba94","#ddd5a0","#e6e6ae","#ebebb8","#fdfdf4","#ffffff"]}}}},
{"data":{"values":[{"t":1},{"t":2},{"t":3},{"t":4},{"t":5},{"t":6},{"t":7}]},"mark":{"type":"rule","color":"black","strokeWidth":1},"encoding":{"x":{"datum":0,"type":"quantitative"},"x2":{"datum":0.1},"y":{"field":"t","type":"quantitative"}}},
{"data":{"values":[{"t":1},{"t":2},{"t":3},{"t":4},{"t":5},{"t":6},{"t":7}]},"mark":{"type":"rule","color":"black","strokeWidth":1},"encoding":{"x":{"datum":0.9,"type":"quantitative"},"x2":{"datum":1},"y":{"field":"t","type":"quantitative"}}}
]}
]}
